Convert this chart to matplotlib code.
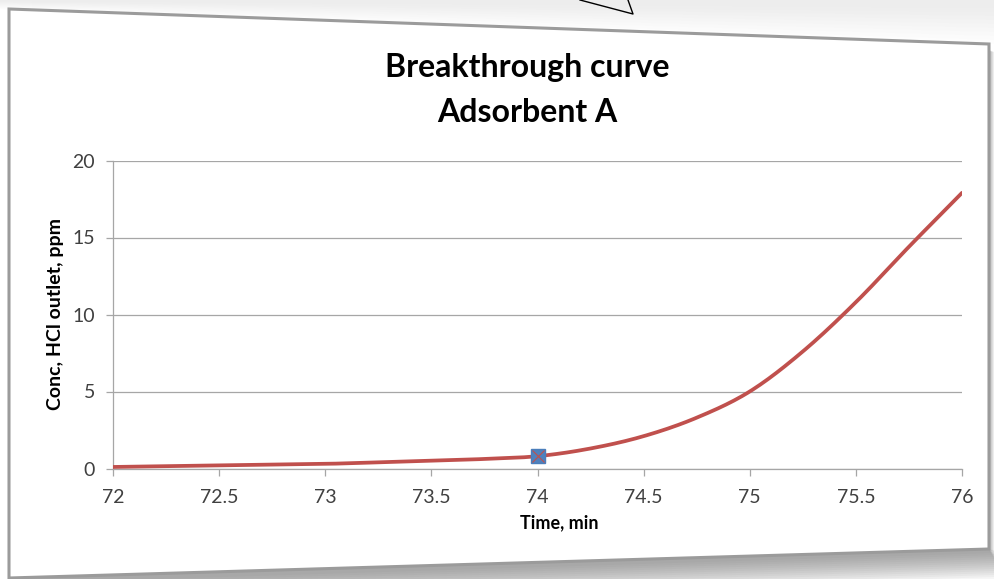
import numpy as np
import matplotlib
matplotlib.use("Agg")
import matplotlib.pyplot as plt
from matplotlib.patches import Polygon
from matplotlib.lines import Line2D

# ---- data ----
time_min = [72.0, 72.25, 72.5, 72.75, 73.0, 73.25, 73.5, 73.75, 74.0,
            74.25, 74.5, 74.75, 75.0, 75.25, 75.5, 75.75, 76.0]
conc_ppm = [0.1, 0.15, 0.2, 0.25, 0.3, 0.4, 0.5, 0.62, 0.8,
            1.3, 2.1, 3.3, 5.0, 7.6, 10.8, 14.4, 17.9]
marker_time = [74.0]
marker_conc = [0.8]
x_ticks = [72, 72.5, 73, 73.5, 74, 74.5, 75, 75.5, 76]
x_tick_labels = ["72", "72.5", "73", "73.5", "74", "74.5", "75", "75.5", "76"]
y_ticks = [0, 5, 10, 15, 20]
y_tick_labels = ["0", "5", "10", "15", "20"]
title_line1 = "Breakthrough curve"
title_line2 = "Adsorbent A"
x_label = "Time, min"
y_label = "Conc, HCl outlet, ppm"

W, H = 994, 579
FONT = ["Lato", "DejaVu Sans"]


def catmull_rom(xs, ys, n=20):
    xs = np.asarray(xs, float)
    ys = np.asarray(ys, float)
    px = np.concatenate([[2 * xs[0] - xs[1]], xs, [2 * xs[-1] - xs[-2]]])
    py = np.concatenate([[2 * ys[0] - ys[1]], ys, [2 * ys[-1] - ys[-2]]])
    ox, oy = [], []
    t = np.linspace(0, 1, n, endpoint=False)
    for i in range(1, len(px) - 2):
        for P, out in ((px, ox), (py, oy)):
            p0, p1, p2, p3 = P[i - 1], P[i], P[i + 1], P[i + 2]
            out.extend(0.5 * ((2 * p1) + (-p0 + p2) * t
                              + (2 * p0 - 5 * p1 + 4 * p2 - p3) * t ** 2
                              + (-p0 + 3 * p1 - 3 * p2 + p3) * t ** 3))
    ox.append(xs[-1])
    oy.append(ys[-1])
    return np.array(ox), np.array(oy)


def fp(x, y):
    return (x / W, 1 - y / H)


fig = plt.figure(figsize=(W / 100, H / 100), dpi=100)
fig.patch.set_facecolor("white")

# faint haze above the panel
for i in range(10):
    fig.patches.append(Polygon([fp(0, 0), fp(W, 0), fp(W, 44 - i * 4), fp(0, 9 - i * 0.9)],
                               closed=True, transform=fig.transFigure,
                               facecolor="#b0b0b0", edgecolor="none", alpha=0.015, zorder=0))
# bottom shadow
for i in range(14):
    off = 30 - i * 2
    fig.patches.append(Polygon([fp(9, 578), fp(989, 549), fp(994, 549 + off * 0.3),
                                fp(994, 549 + off), fp(30, 579 + off)],
                               closed=True, transform=fig.transFigure,
                               facecolor="#6f6f6f", edgecolor="none", alpha=0.06, zorder=0))
# right shadow
for i in range(5):
    off = 5 - i
    fig.patches.append(Polygon([fp(989, 50), fp(989 + off, 52),
                                fp(989 + off, 552), fp(989, 549)],
                               closed=True, transform=fig.transFigure,
                               facecolor="#6f6f6f", edgecolor="none", alpha=0.12, zorder=0))

# white chart panel
fig.patches.append(Polygon([fp(9, 9), fp(989, 44), fp(989, 549), fp(9, 578)],
                           closed=True, transform=fig.transFigure,
                           facecolor="white", edgecolor="#9b9b9b", linewidth=2.2, zorder=1))

# little triangle outline at top
fig.lines.append(Line2D([580 / W, 633 / W, 628 / W], [1, 1 - 14 / H, 1],
                        transform=fig.transFigure, color="black", linewidth=1.0, zorder=2))

ax = fig.add_axes([113 / W, 1 - 468.5 / H, (962 - 113) / W, (468.5 - 160.5) / H])
ax.set_zorder(3)
ax.patch.set_alpha(0)
ax.set_xlim(72, 76)
ax.set_ylim(0, 20)

cx, cy = catmull_rom(time_min, conc_ppm)
ax.plot(cx, cy, color="#c0504d", linewidth=2.7, solid_capstyle="round", zorder=3)
ax.plot(marker_time, marker_conc, linestyle="none", marker="s", markersize=10,
        markerfacecolor="#4f81bd", markeredgecolor="#4a7ebb", zorder=4)
ax.plot(marker_time, marker_conc, linestyle="none", marker="x", markersize=8,
        markeredgecolor="#c0504d", markeredgewidth=0.8, zorder=5)

ax.set_xticks(x_ticks)
ax.set_xticklabels(x_tick_labels)
ax.set_yticks(y_ticks)
ax.set_yticklabels(y_tick_labels)
ax.grid(axis="y", color="#a6a6a6", linewidth=0.9)
ax.set_axisbelow(True)
for s in ("top", "right"):
    ax.spines[s].set_visible(False)
for s in ("left", "bottom"):
    ax.spines[s].set_color("#a6a6a6")
    ax.spines[s].set_linewidth(0.9)
ax.tick_params(axis="both", colors="#a6a6a6", length=5, width=0.9, direction="out",
               labelcolor="#404040", labelsize=14)
ax.tick_params(axis="x", pad=10)
ax.tick_params(axis="y", pad=8)
for lbl in ax.get_xticklabels() + ax.get_yticklabels():
    lbl.set_family(FONT)

fig.text(527 / W, 1 - 68 / H, title_line1, ha="center", va="center",
         fontsize=23, fontweight="bold", family=FONT, color="black")
fig.text(527 / W, 1 - 112 / H, title_line2, ha="center", va="center",
         fontsize=23, fontweight="bold", family=FONT, color="black")
fig.text(559 / W, 1 - 523 / H, x_label, ha="center", va="center",
         fontsize=13, fontweight="bold", family=FONT, color="black")
fig.text(56 / W, 1 - 314 / H, y_label, ha="center", va="center", rotation=90,
         fontsize=14, fontweight="bold", family=FONT, color="black")

fig.savefig("out.png", dpi=100, facecolor=fig.get_facecolor())
